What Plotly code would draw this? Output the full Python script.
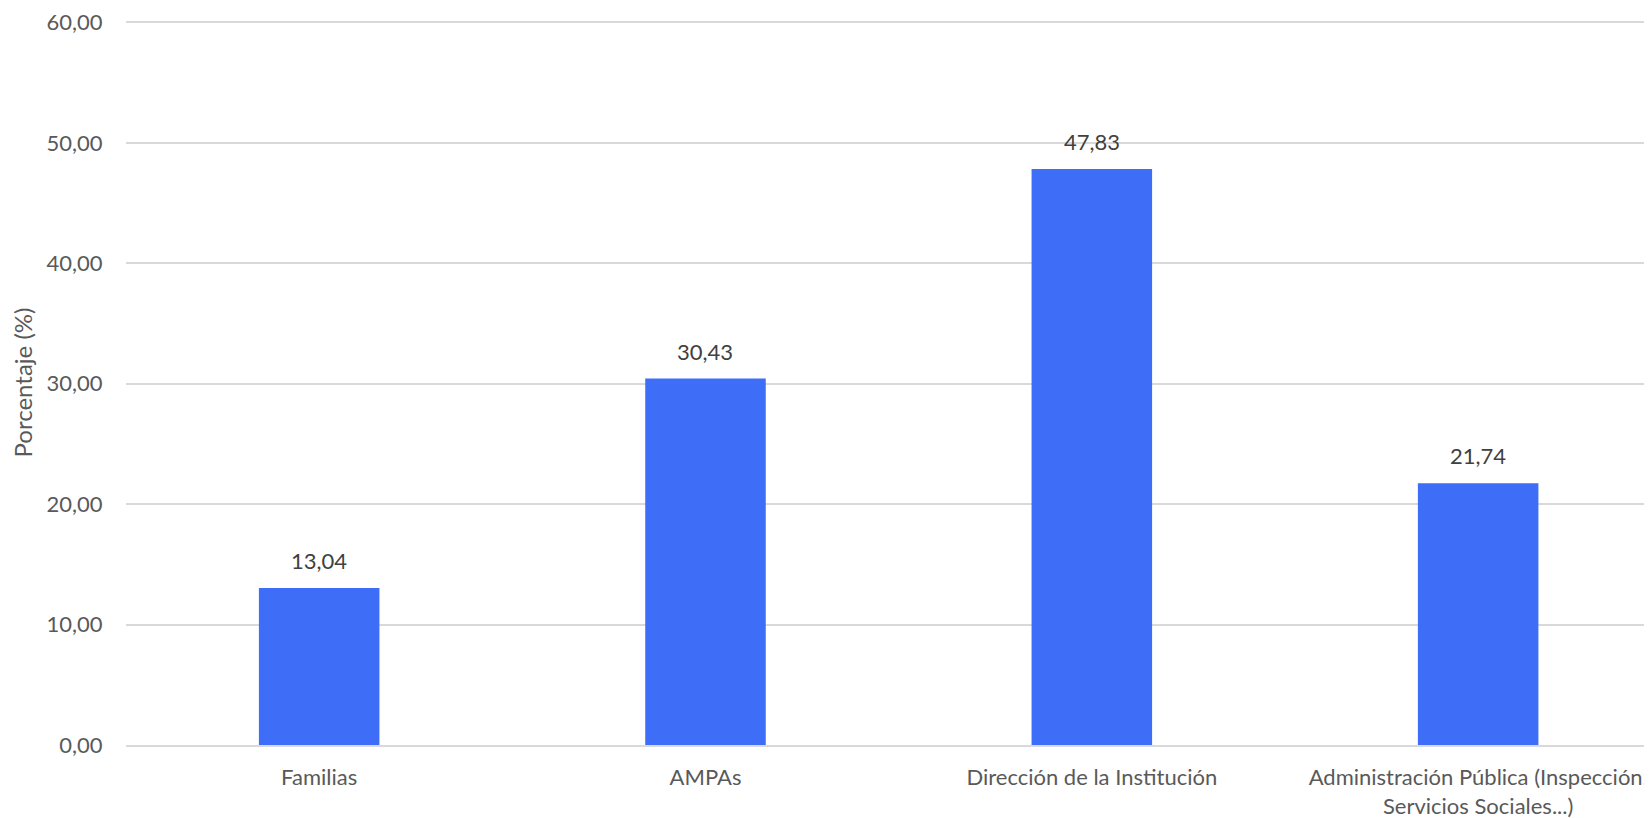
import plotly.graph_objects as go

categories = ["Familias", "AMPAs", "Dirección de la Institución",
              "Administración Pública (Inspección,<br>Servicios Sociales...)"]
values = [13.04, 30.43, 47.83, 21.74]
y_ticks = [0, 10, 20, 30, 40, 50, 60]

FONT = "Lato"
BAR = "#3E6EF8"
FS = 22

fig = go.Figure(go.Bar(x=categories, y=values, marker=dict(color=BAR, line=dict(width=0)),
                       width=0.312, hoverinfo="skip"))

for c, v in zip(categories, values):
    fig.add_annotation(x=c, y=v, text=f"{v:.2f}".replace(".", ","), showarrow=False,
                       yanchor="bottom", yshift=12,
                       font=dict(family=FONT, size=FS, color="#404040"))

fig.update_layout(
    width=1652, height=818,
    margin=dict(l=118, r=8, t=12, b=81),
    paper_bgcolor="white", plot_bgcolor="white",
    separators=",.",
    showlegend=False,
    font=dict(family=FONT, size=FS, color="#595959"),
    xaxis=dict(range=[-0.5, 3.45], showgrid=False, showline=True, linecolor="#D9D9D9",
               linewidth=2, ticks="outside", ticklen=12, tickcolor="rgba(0,0,0,0)",
               tickfont=dict(family=FONT, size=FS, color="#595959"), zeroline=False,
               automargin=False),
    yaxis=dict(range=[0, 60.2], tickvals=y_ticks, tickformat=".2f", showgrid=True,
               gridcolor="#D9D9D9", gridwidth=2, zeroline=False, showline=False,
               ticks="outside", ticklen=18, tickcolor="rgba(0,0,0,0)",
               tickfont=dict(family=FONT, size=FS, color="#595959"), automargin=False,
               title=dict(text="Porcentaje (%)", standoff=9,
                          font=dict(family=FONT, size=24, color="#595959"))),
)

fig.write_html("out.html")
